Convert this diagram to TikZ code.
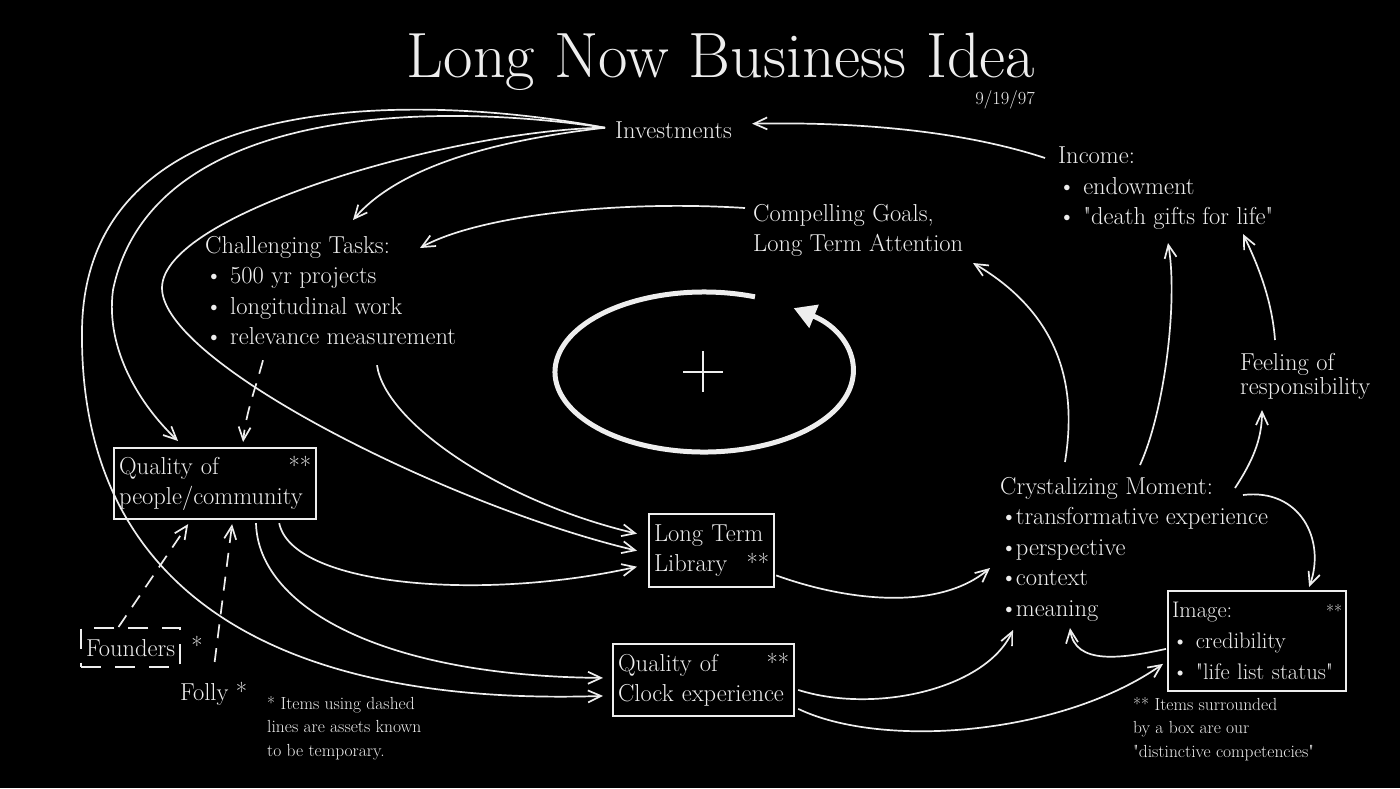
\documentclass[tikz,border=0pt]{standalone}
\usetikzlibrary{arrows.meta}
\definecolor{fg}{HTML}{EEEEEE}
\newcommand\lnbody{\fontsize{24.5}{30.5}\selectfont}
\newcommand\lnnote{\fontsize{17.5}{23.5}\selectfont}
\newcommand\qq{\textquotedbl}
\tikzset{
  txt/.style={inner sep=0pt, anchor=north west, align=left, text=fg, font=\lnbody},
  box/.style={txt, draw=fg, line width=2.2pt, inner xsep=5pt, inner ysep=8pt},
  link/.style={draw=fg, line width=1.7pt, -{Straight Barb[length=13pt,width=12pt]}},
  temp/.style={link, dash pattern=on 14pt off 10pt},
}
\begin{document}
\begin{tikzpicture}[x=1pt, y=-1pt]
\fill[black] (0,0) rectangle (1400,788);
\useasboundingbox (0,0) rectangle (1400,788);

% headline
\node[txt, anchor=base, font=\fontsize{64}{66}\selectfont] (title) at (721,77) {Long Now Business Idea};
\node[txt, anchor=base east, font=\fontsize{18.5}{20}\selectfont] (date) at (1035,104) {9/19/97};

% plain text items
\node[txt, anchor=base west] (inv) at (615,138) {Investments};
\node[txt] (income) at (1058,147) {Income:\\\textbullet\ endowment\\\textbullet\ \qq death gifts for life\qq};
\node[txt] (goals) at (753,204) {Compelling Goals,\\Long Term Attention};
\node[txt] (tasks) at (205,236) {Challenging Tasks:\\\textbullet\ 500 yr projects\\\textbullet\ longitudinal work\\\textbullet\ relevance measurement};
\node[txt] (crystal) at (1000,477) {Crystalizing Moment:\\\textbullet\kern-2pt transformative experience\\\textbullet\kern-2pt perspective\\\textbullet\kern-2pt context\\\textbullet\kern-2pt meaning};
\node[txt, font=\fontsize{24.5}{24}\selectfont] (feeling) at (1240,353) {Feeling of\\responsibility};
\node[txt] (folly) at (180,682) {Folly *};

% boxed competencies
\node[box, text width=192pt] (people) at (113,447) {Quality of\hfill**\\people/community};
\node[box, text width=115pt, inner ysep=10.5pt] (library) at (648,513) {Long Term\\Library\hfill**};
\node[box, text width=171pt, inner ysep=9pt] (clock) at (612,643) {Quality of\hfill**\\Clock experience};
\node[box, text width=170pt, inner xsep=4pt, inner ysep=11pt, font=\fontsize{22.5}{31}\selectfont] (image) at (1167,590) {Image:\hfill{\lnnote**}\\\textbullet\ credibility\\\textbullet\ \qq life list status\qq};

% temporary assets
\node[txt, draw=fg, line width=2pt, dash pattern=on 20pt off 14pt, inner xsep=5pt, inner ysep=11pt] (founders) at (80,627) {Founders};
\node[txt, anchor=west] (fstar) at ([shift={(10,-2)}]founders.east) {*};

% notes
\node[txt, font=\lnnote] (note1) at (267,696) {* Items using dashed\\lines are assets known\\to be temporary.};
\node[txt, font=\lnnote] (note2) at (1133,697) {** Items surrounded\\by a box are our\\\qq distinctive competencies\qq};

% the loop
\draw[fg, line width=5pt, -{Triangle[length=22pt,width=24pt]}] (704,372) ++(-70:149 and 80) arc[start angle=-70, end angle=-413, x radius=149, y radius=80];
\draw[fg, line width=2pt] (683,372) -- (723,372) (703,351) -- (703,392);

% connectors
\draw[link] ([shift={(-13,11)}]income.north west) .. controls +(-85,-28) and +(100,-2) .. ([shift={(20,-6)}]inv.east);
\draw[link] ([shift={(-10,-2)}]inv.west) .. controls +(-175,-33) and +(3,-250) .. (82,330) .. controls +(-3,250) and +(-343,11) .. ([shift={(-9,16)}]clock.west);
\draw[link] ([shift={(-10,-2)}]inv.west) .. controls +(-185,-28) and +(37,-180) .. (113,290) .. controls +(-8,60) and +(-37,-35) .. ([shift={(-37,-6)}]people.north);
\draw[link] ([shift={(-10,-2)}]inv.west) .. controls +(-150,2) and +(0,-75) .. (162,288) .. controls +(0,75) and +(-186,-44) .. ([shift={(-11,0)}]library.west);
\draw[link] ([shift={(-10,-2)}]inv.west) .. controls +(-105,12) and +(47,-55) .. ([shift={(148,-16)}]tasks.north west);
\draw[link] ([shift={(-8,4)}]goals.north west) .. controls +(-125,-8) and +(60,-33) .. ([shift={(215,12)}]tasks.north west);
\draw[temp] ([shift={(58,15)}]tasks.south west) .. controls +(-8,30) and +(3,-30) .. ([shift={(28,-5)}]people.north);
\draw[link] ([shift={(172,20)}]tasks.south west) .. controls +(8,57) and +(-136,-32) .. ([shift={(-11,-17)}]library.west);
\draw[link] ([shift={(-38,3)}]people.south east) .. controls +(13,63) and +(-156,35) .. ([shift={(-11,16)}]library.west);
\draw[link] ([shift={(143,3)}]people.south west) .. controls +(2,83) and +(-223,-2) .. ([shift={(-9,-2)}]clock.west);
\draw[temp] ([shift={(-12,0)}]founders.north) -- ([shift={(-27,4)}]people.south);
\draw[temp] ([shift={(1,-20)}]folly.north) -- ([shift={(17,4)}]people.south);
\draw[link] ([shift={(1,-13)}]library.south east) .. controls +(75,27) and +(-50,42) .. ([shift={(-10,91)}]crystal.north west);
\draw[link] ([shift={(3,10)}]clock.east) .. controls +(75,24) and +(-28,60) .. ([shift={(13,153)}]crystal.north west);
\draw[link] ([shift={(3,-8)}]clock.south east) .. controls +(83,40) and +(-103,72) .. ([shift={(-4,23)}]image.west);
\draw[link] ([shift={(-1,8)}]image.west) .. controls +(-45,10) and +(5,37) .. ([shift={(70,151)}]crystal.north west);
\draw[link] ([shift={(243,18)}]crystal.north west) .. controls +(57,-7) and +(17,-47) .. ([shift={(52,-3)}]image.north);
\draw[link] ([shift={(65,-15)}]crystal.north west) .. controls +(10,-62) and +(97,57) .. ([shift={(220,59)}]goals.north west);
\draw[link] ([shift={(140,-12)}]crystal.north west) .. controls +(25,-55) and +(10,57) .. ([shift={(110,96)}]income.north west);
\draw[link] ([shift={(235,11)}]crystal.north west) .. controls +(17,-26) and +(0,30) .. ([shift={(22,57)}]feeling.north west);
\draw[link] ([shift={(35,-13)}]feeling.north west) .. controls +(-3,-40) and +(15,31) .. ([shift={(185,87)}]income.north west);
\end{tikzpicture}
\end{document}
